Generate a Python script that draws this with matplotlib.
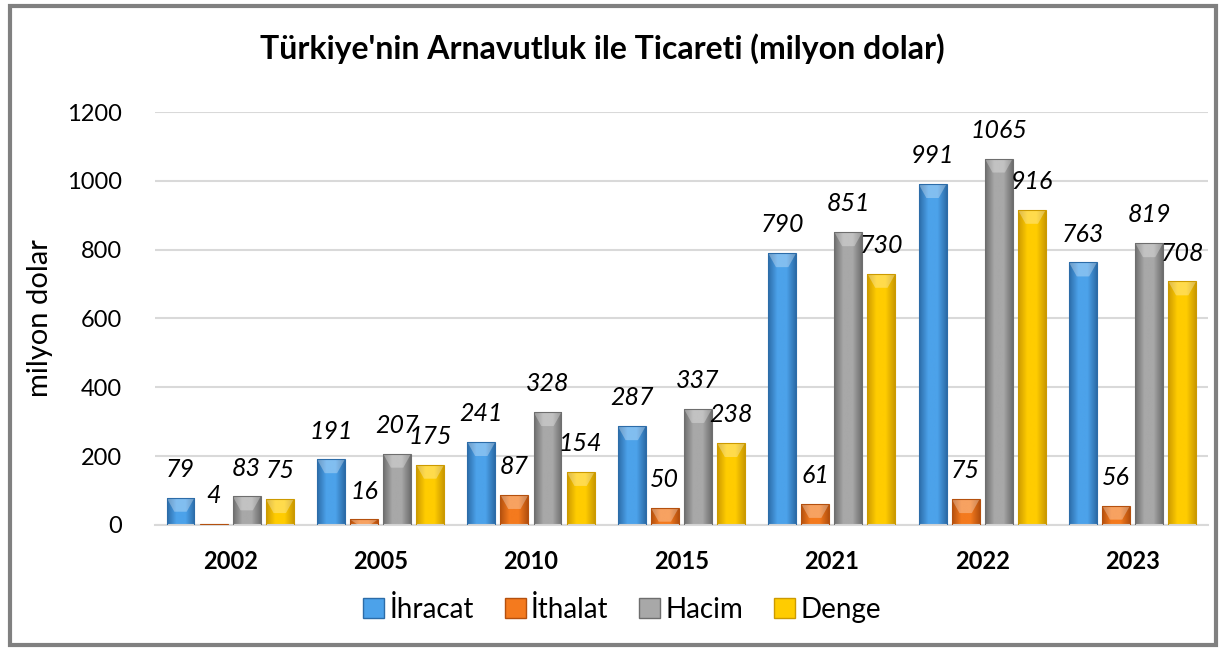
import matplotlib
matplotlib.use("Agg")
import matplotlib.pyplot as plt
import numpy as np
from matplotlib.colors import LinearSegmentedColormap
from matplotlib.patches import Polygon, Rectangle

plt.rcParams["font.family"] = ["Lato", "DejaVu Sans"]

years = ["2002", "2005", "2010", "2015", "2021", "2022", "2023"]
ihracat = [79, 191, 241, 287, 790, 991, 763]
ithalat = [4, 16, 87, 50, 61, 75, 56]
hacim = [83, 207, 328, 337, 851, 1065, 819]
denge = [75, 175, 154, 238, 730, 916, 708]

series_names = ["İhracat", "İthalat", "Hacim", "Denge"]
series_values = [ihracat, ithalat, hacim, denge]
# (edge shade, centre shade) for the bevel-like gradient
series_colors = [("#2C6CA8", "#4CA2EA"), ("#B4500E", "#F47A1E"),
                 ("#6E6E6E", "#A8A8A8"), ("#CC9A00", "#FFCC00")]


def shade_bar(ax, bar, dark, light):
    x, y = bar.get_x(), bar.get_y()
    w, h = bar.get_width(), bar.get_height()
    bar.set_facecolor("none")
    cmap = LinearSegmentedColormap.from_list("b", [dark, light, light, dark])
    grad = np.linspace(0, 1, 64).reshape(1, -1)
    im = ax.imshow(grad, cmap=cmap, extent=(x, x + w, y, y + h), aspect="auto",
                   zorder=2, interpolation="bilinear")
    im.set_clip_path(bar)
    # light chevron at the top of the bar
    cap = min(h, 14 / ax.bbox.height * 1200)
    tri = Polygon([(x, y + h), (x + w, y + h), (x + w * 0.72, y + h - cap),
                   (x + w * 0.28, y + h - cap)], closed=True,
                  facecolor="white", alpha=0.3, edgecolor="none", zorder=3)
    ax.add_patch(tri)


fig = plt.figure(figsize=(12.2, 6.48), dpi=100)
ax = fig.add_axes([0.127, 0.19, 0.863, 0.637])

x = np.arange(len(years))
width = 0.186
pitch = 0.22
for i, (name, vals, (dark, light)) in enumerate(zip(series_names, series_values, series_colors)):
    pos = x + (i - 1.5) * pitch
    bars = ax.bar(pos, vals, width, label=name, edgecolor=dark, linewidth=0.8, zorder=4)
    for b, v in zip(bars, vals):
        shade_bar(ax, b, dark, light)
        ax.annotate(str(v), (b.get_x() + b.get_width() / 2, v), xytext=(0, 12),
                    textcoords="offset points", ha="center", va="bottom",
                    fontsize=18, fontstyle="italic", color="black", zorder=5)

ax.set_xlim(-0.5, len(years) - 0.5)
ax.set_ylim(0, 1200)
ax.set_yticks(range(0, 1201, 200))
ax.set_xticks(x)
ax.set_xticklabels(years, fontsize=17, fontweight="bold")
ax.tick_params(axis="y", labelsize=17, length=0, pad=24)
ax.tick_params(axis="x", length=0, pad=18)
ax.grid(axis="y", color="#D9D9D9", linewidth=1.5, zorder=0)
for s in ["top", "right", "left"]:
    ax.spines[s].set_visible(False)
ax.spines["bottom"].set_color("#D9D9D9")
ax.spines["bottom"].set_linewidth(1.5)
ax.set_ylabel("milyon dolar", fontsize=21, labelpad=10)

fig.suptitle("Türkiye'nin Arnavutluk ile Ticareti (milyon dolar)", x=0.494, y=0.948,
             fontsize=23, fontweight="bold")

handles = [Rectangle((0, 0), 1, 1, facecolor=l, edgecolor=d) for d, l in series_colors]
fig.legend(handles, series_names, loc="center", bbox_to_anchor=(0.51, 0.06), ncol=4,
           frameon=False, fontsize=20, handlelength=0.75, handleheight=0.75,
           handletextpad=0.2, columnspacing=1.1)

fig.add_artist(Rectangle((0.008, 0.004), 0.989, 0.986, transform=fig.transFigure,
                         fill=False, edgecolor="#808080", linewidth=3))

fig.savefig("out.png", dpi=100)
